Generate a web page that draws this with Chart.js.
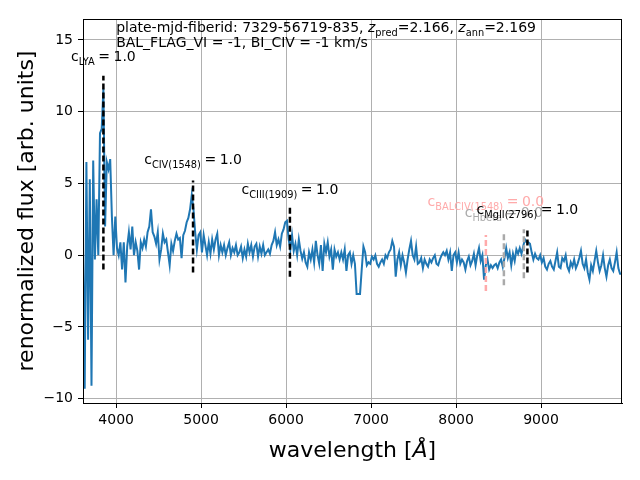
<!DOCTYPE html>
<html>
<head>
<meta charset="utf-8">
<script src="https://cdn.jsdelivr.net/npm/chart.js@4.4.1/dist/chart.umd.min.js"></script>
<style>
  html, body { margin: 0; padding: 0; background: #fff; }
  canvas { display: block; }
</style>
</head>
<body>
<canvas id="spec" width="640" height="480"></canvas>
<script>
// wavelength grid: uniform sampling, start + step (Angstrom)
const waveStart = 3610;
const waveStep = 20;

// renormalized flux
const flux = [
  0.5, -9.3, 6.5, -5.9, 5.3, -9.1, 6.6, -0.3, 3.9, 0.0,
  8.5, 8.8, 11.6, 2.0, 6.5, 6.0, 6.7, 2.7, 0.0, 2.7,
  0.5, 0.0, 0.9, -1.0, 0.9, -1.9, 0.6, 1.6, 0.4, 2.0,
  0.0, 0.9, 0.3, -1.0, 0.9, 0.5, 1.1, 0.6, 1.6, 2.0,
  3.2, 1.6, 1.3, 0.8, 1.6, -0.3, 0.4, 1.5, 0.9, 1.1,
  0.2, -0.7, 0.8, 0.3, 1.0,
  1.5, 1.1, 1.2, -0.2, 1.4, 1.7, 2.3, 2.6, 3.2, 4.2,
  3.2, 1.6, 0.4, 1.4, 1.6, 0.2, 1.4, 0.7, 0.0, 0.9,
  0.1, 1.1, 0.4, 1.1, 1.5, 0.0, 0.7, 0.2, 0.7, 0.0,
  0.5, 0.9, 0.0, 0.5, 0.2, 0.7, 0.0, 0.2, 0.6, -0.2,
  0.4, -0.1, 0.8, 0.2, 0.7, -0.1, 0.6, 0.8, -0.1, 0.6,
  0.1, 0.7, 0.0, 0.2, 0.4, 0.1, 0.7, 1.0, 1.6, 0.7,
  1.1, 0.6, 1.5, 1.8, 2.3, 2.4, 1.1, 0.4, 1.4, 0.3,
  0.8, 0.0, 1.1, 0.3, -0.25, 0.2, -0.5, -0.8, 0.2, -0.3,
  0.4, -0.5, 1.0, 0.0, -0.6, 0.7, -1.1, 0.8, 0.2, 0.9,
  -0.1, 0.4, -1.0, 0.4, -0.1, 0.2, -0.3, 0.2, -0.3, 0.4,
  -1.1, 0.0, 0.2, -0.6, 0.0, -0.6, -2.7, -2.7, -2.7, -1.0,
  0.6, 0.2, -0.7, -0.5, -0.6, -0.1, -0.3, 0.0, -0.6, -0.8,
  -0.5, -0.3, -0.6, 0.0, -0.2, 0.2, 0.4, 1.0, 0.6, -1.5,
  -0.3, 0.2, -0.7, 0.0, -0.5, -1.2, -0.3, 0.4, 1.0, 0.0,
  -0.3, 0.6, -0.6, -0.5, -0.2, -0.9, -0.3, -0.6, -0.8, -0.3,
  -0.5, -0.2, 0.0, -0.6, -0.7, -0.3, 0.0, 0.2, 0.0, 0.3,
  -0.3, 0.2, -1.1, 0.0, 0.2, -0.5, 0.2, -0.6, -0.3, -0.5,
  -1.0,
  -0.4, -0.1, -0.7, -0.4, 0.1, -0.7, 0.0, 0.5, -0.4, 0.0,
  -1.7, -0.7, -0.3, -1.0, -0.7, -0.9, -0.7, -0.6, -0.9, -0.5,
  -0.3, -0.8, -0.2, 0.5, -0.2, 0.2, -0.7, 0.1, -0.4, 0.4,
  0.1, 0.5, 0.1, 0.6, 1.1, 0.9, 0.9, 0.8, 0.2, -0.3,
  0.1, -0.2, -0.3, 0.0, -0.5, -0.2, -0.8, -1.0, -0.6, -0.4,
  -0.8, -1.0, -0.4, 0.2, -0.8, -0.9, -0.2, -0.4, 0.0, -0.8,
  -1.1, -0.5, -0.8, -0.3, -0.9, -0.6, -0.2, 0.3, -0.6, -0.9,
  -0.3, -1.2, -1.7, -0.7, -1.1, -0.4, 0.3, -0.5, -1.1, -0.7,
  0.0, -0.9, -1.5, -0.7, -0.3, -0.9, -1.1, -0.5, 0.2, -0.9,
  -1.3, -1.3
];

// dashed line markers
const markerWave   = [3850, 4905, 6045, 8351, 8563, 8798, 8840];
const markerTop    = [12.5, 5.2, 3.3, 1.4, 1.5, 1.8, 1.8];
const markerBottom = [-1.0, -1.2, -1.5, -2.5, -2.1, -1.6, -1.2];
const markerColor  = ['#000000', '#000000', '#000000', '#ffaaaa', '#aaaaaa', '#aaaaaa', '#000000'];

// confidence labels
const labelName  = ['LYA', 'CIV(1548)', 'CIII(1909)', 'BALCIV(1548)', 'Hbeta', 'MgII(2796)'];
const labelValue = ['1.0', '1.0', '1.0', '0.0', '0.0', '1.0'];
const labelWave  = [3850, 4905, 6045, 8351, 8563, 8840];
const labelFlux  = [13.5, 6.35, 4.26, 3.4, 2.65, 2.86];
const labelColor = ['#000000', '#000000', '#000000', '#ffaaaa', '#aaaaaa', '#000000'];

const xTicks = [4000, 5000, 6000, 7000, 8000, 9000];
const yTicks = [-10, -5, 0, 5, 10, 15];

const FONT = '"DejaVu Sans", sans-serif';
const SP = '\u2005'; // narrow space around "=" like mathtext

const specPoints = flux.map((f, i) => ({ x: waveStart + waveStep * i, y: f }));

const datasets = [{
  data: specPoints,
  borderColor: '#1f77b4',
  borderWidth: 2,
  pointRadius: 0,
  tension: 0,
  order: 2
}];
markerWave.forEach((w, i) => {
  datasets.push({
    data: [{ x: w, y: markerBottom[i] }, { x: w, y: markerTop[i] }],
    borderColor: markerColor[i],
    borderWidth: 2.5,
    borderDash: [6, 3],
    pointRadius: 0,
    order: 1
  });
});

// draw text made of normal / subscript / italic pieces
function drawRich(ctx, pieces, x, y, size, color, align) {
  const fontOf = p => (p.it ? 'italic ' : '') + (p.sub ? size * 0.7 : size) + 'px ' + FONT;
  let total = 0;
  pieces.forEach(p => { ctx.font = fontOf(p); total += ctx.measureText(p.t).width; });
  let cx = align === 'center' ? x - total / 2 : x;
  ctx.fillStyle = color;
  ctx.textBaseline = 'alphabetic';
  ctx.textAlign = 'left';
  pieces.forEach(p => {
    ctx.font = fontOf(p);
    ctx.fillText(p.t, cx, p.sub ? y + size * 0.27 : y);
    cx += ctx.measureText(p.t).width;
  });
}

const textPlugin = {
  id: 'texts',
  afterDatasetsDraw(chart) {
    const ctx = chart.ctx;
    const xs = chart.scales.x, ys = chart.scales.y;
    const a = chart.chartArea;
    ctx.save();
    // frame
    ctx.strokeStyle = '#000';
    ctx.lineWidth = 1;
    ctx.strokeRect(a.left + 0.5, a.top + 0.5, a.right - a.left - 1, a.bottom - a.top);

    // line labels
    labelName.forEach((n, i) => {
      drawRich(ctx, [{ t: 'c' }, { t: n, sub: true }, { t: SP + '=' + SP + labelValue[i] }],
        xs.getPixelForValue(labelWave[i]), ys.getPixelForValue(labelFlux[i]), 14, labelColor[i], 'center');
    });

    // header
    const hx = xs.getPixelForValue(4000);
    drawRich(ctx, [
      { t: 'plate-mjd-fiberid: 7329-56719-835, ' },
      { t: 'z', it: true }, { t: 'pred', sub: true }, { t: '=2.166, ' },
      { t: 'z', it: true }, { t: 'ann', sub: true }, { t: '=2.169' }
    ], hx, 32, 14, '#000', 'left');
    drawRich(ctx, [{ t: 'BAL_FLAG_VI = -1, BI_CIV = -1 km/s' }], hx, 46.5, 14, '#000', 'left');

    // axis titles
    drawRich(ctx, [{ t: 'wavelength [' }, { t: 'Å', it: true }, { t: ']' }],
      (a.left + a.right) / 2, 457, 22, '#000', 'center');
    ctx.translate(33, (a.top + a.bottom) / 2);
    ctx.rotate(-Math.PI / 2);
    drawRich(ctx, [{ t: 'renormalized flux [arb. units]' }], 0, 0, 22, '#000', 'center');
    ctx.restore();
  }
};

const tickFmt = v => (v < 0 ? '\u2212' + Math.abs(v) : String(v));

new Chart(document.getElementById('spec'), {
  type: 'line',
  data: { datasets },
  options: {
    responsive: false,
    animation: false,
    devicePixelRatio: 1,
    layout: { padding: { top: 19, right: 18, left: 0, bottom: 0 } },
    plugins: { legend: { display: false }, tooltip: { enabled: false } },
    scales: {
      x: {
        type: 'linear',
        min: 3610,
        max: 9953,
        afterBuildTicks: s => { s.ticks = xTicks.map(v => ({ value: v })); },
        afterFit: s => { s.height = 77; },
        ticks: { color: '#000', font: { family: FONT, size: 14 }, padding: 4, maxRotation: 0, autoSkip: false, callback: tickFmt },
        grid: { color: '#b0b0b0', lineWidth: 1, tickLength: 5, tickColor: '#000' },
        border: { color: '#000', width: 1 }
      },
      y: {
        type: 'linear',
        min: -10.3,
        max: 16.46,
        afterBuildTicks: s => { s.ticks = yTicks.map(v => ({ value: v })); },
        afterFit: s => { s.width = 83; },
        ticks: { color: '#000', font: { family: FONT, size: 14 }, padding: 5, autoSkip: false, callback: tickFmt },
        grid: { color: '#b0b0b0', lineWidth: 1, tickLength: 5, tickColor: '#000' },
        border: { color: '#000', width: 1 }
      }
    }
  },
  plugins: [textPlugin]
});
</script>
</body>
</html>
